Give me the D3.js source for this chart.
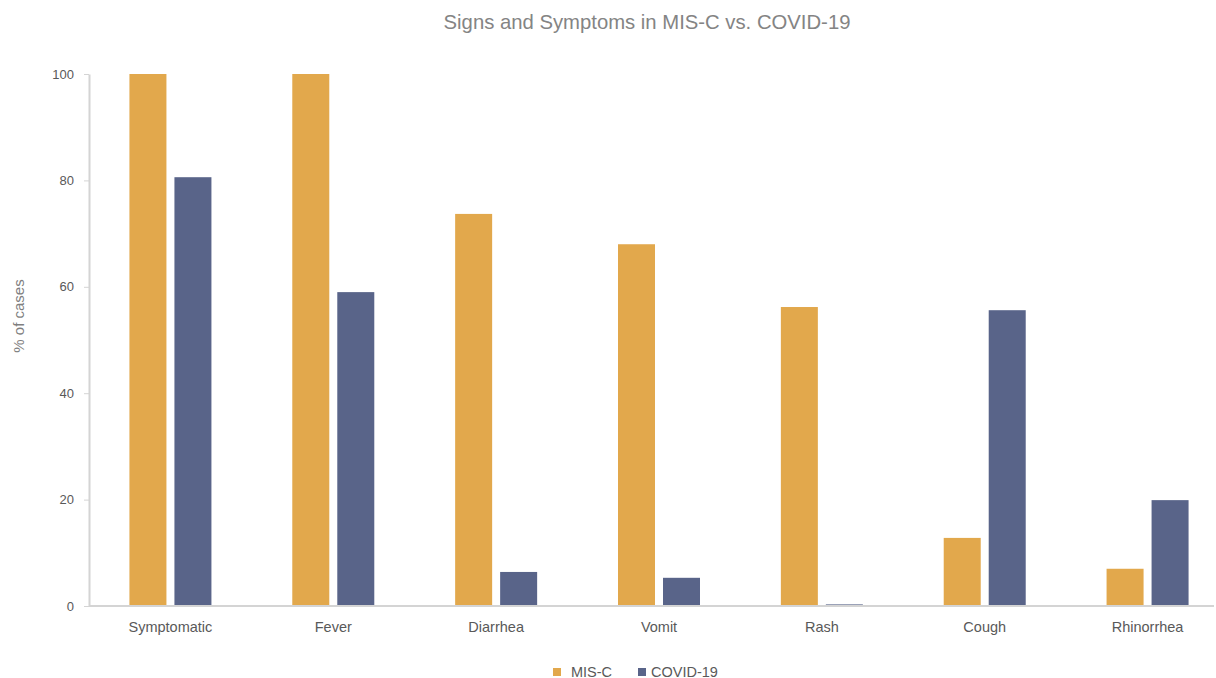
<!DOCTYPE html>
<html>
<head>
	<meta charset="utf-8">
	<title>Signs and Symptoms in MIS-C vs. COVID-19</title>
	<script type="text/javascript" src="https://d3js.org/d3.v7.min.js"></script>
	<style>
		body { margin: 0; background: #fff; }
		text { font-family: "Liberation Sans", Arial, sans-serif; }
		.axis path, .axis line { stroke: #d4d4d4; }
		.axis text { fill: #595959; }
		.axis--y text { font-size: 13px; }
		.axis--x text { font-size: 14.5px; }
	</style>
</head>
<body>
	<svg width="1216" height="678"></svg>
	<script type="text/javascript">

	var categories = ["Symptomatic", "Fever", "Diarrhea", "Vomit", "Rash", "Cough", "Rhinorrhea"];
	var seriesNames = ["MIS-C", "COVID-19"];
	var misc = [100, 100, 73.7, 68.0, 56.2, 12.8, 7.0];
	var covid = [80.6, 59.0, 6.4, 5.3, 0.3, 55.6, 19.9];
	var yTicks = [0, 20, 40, 60, 80, 100];
	var colors = ["#e2a84c", "#596489"];

	var svg = d3.select("svg"),
		margin = {top: 74, right: 2, bottom: 72, left: 89},
		width = +svg.attr("width") - margin.left - margin.right,
		height = +svg.attr("height") - margin.top - margin.bottom;

	var data = categories.map(function(c, i) {
		return {cat: c, values: [misc[i], covid[i]]};
	});

	// category step is a bit wider than the visible axis, last group sits near the edge
	var x = d3.scaleBand().domain(categories).range([0, 1140]);
	var x1 = d3.scaleBand().domain(seriesNames)
		.range([x.bandwidth() / 2 - 41, x.bandwidth() / 2 + 41])
		.paddingInner(8 / 45);
	var y = d3.scaleLinear().domain([0, 100]).range([height, 0]);

	var g = svg.append("g")
		.attr("transform", "translate(" + margin.left + "," + margin.top + ")");

	// title
	svg.append("text")
		.attr("x", 647)
		.attr("y", 29)
		.attr("text-anchor", "middle")
		.style("font-size", "20.3px")
		.style("fill", "#848484")
		.text("Signs and Symptoms in MIS-C vs. COVID-19");

	// bars
	var groups = g.selectAll(".grp")
		.data(data)
		.enter().append("g")
		.attr("class", "grp")
		.attr("transform", function(d) { return "translate(" + x(d.cat) + ",0)"; });

	groups.selectAll("rect")
		.data(function(d) { return d.values.map(function(v, i) { return {s: seriesNames[i], v: v, i: i}; }); })
		.enter().append("rect")
		.attr("x", function(d) { return x1(d.s); })
		.attr("y", function(d) { return y(d.v); })
		.attr("width", x1.bandwidth())
		.attr("height", function(d) { return height - y(d.v); })
		.attr("fill", function(d) { return colors[d.i]; });

	// axes
	g.append("g")
		.attr("class", "axis axis--y")
		.call(d3.axisLeft(y).tickValues(yTicks).tickSize(5).tickSizeOuter(0).tickPadding(10))
		.select(".domain").attr("stroke-width", 2);

	var xAxis = g.append("g")
		.attr("class", "axis axis--x")
		.attr("transform", "translate(0," + height + ")")
		.call(d3.axisBottom(x).tickSize(0).tickPadding(16));
	xAxis.select(".domain")
		.attr("d", "M0,0H" + width)
		.attr("stroke-width", 2);

	// y label
	svg.append("text")
		.attr("transform", "translate(24,316) rotate(-90)")
		.attr("text-anchor", "middle")
		.style("font-size", "15px")
		.style("fill", "#7f7f7f")
		.text("% of cases");

	// legend
	var legendX = [553, 638];
	var legend = svg.selectAll(".legend")
		.data(seriesNames)
		.enter().append("g")
		.attr("class", "legend")
		.attr("transform", function(d, i) { return "translate(" + legendX[i] + ",668)"; });

	legend.append("rect")
		.attr("width", 8)
		.attr("height", 8)
		.attr("fill", function(d, i) { return colors[i]; });

	legend.append("text")
		.attr("x", function(d, i) { return i === 0 ? 18 : 13; })
		.attr("y", 8.5)
		.style("font-size", "14.5px")
		.style("fill", "#595959")
		.text(function(d) { return d; });

	</script>
</body>
</html>
